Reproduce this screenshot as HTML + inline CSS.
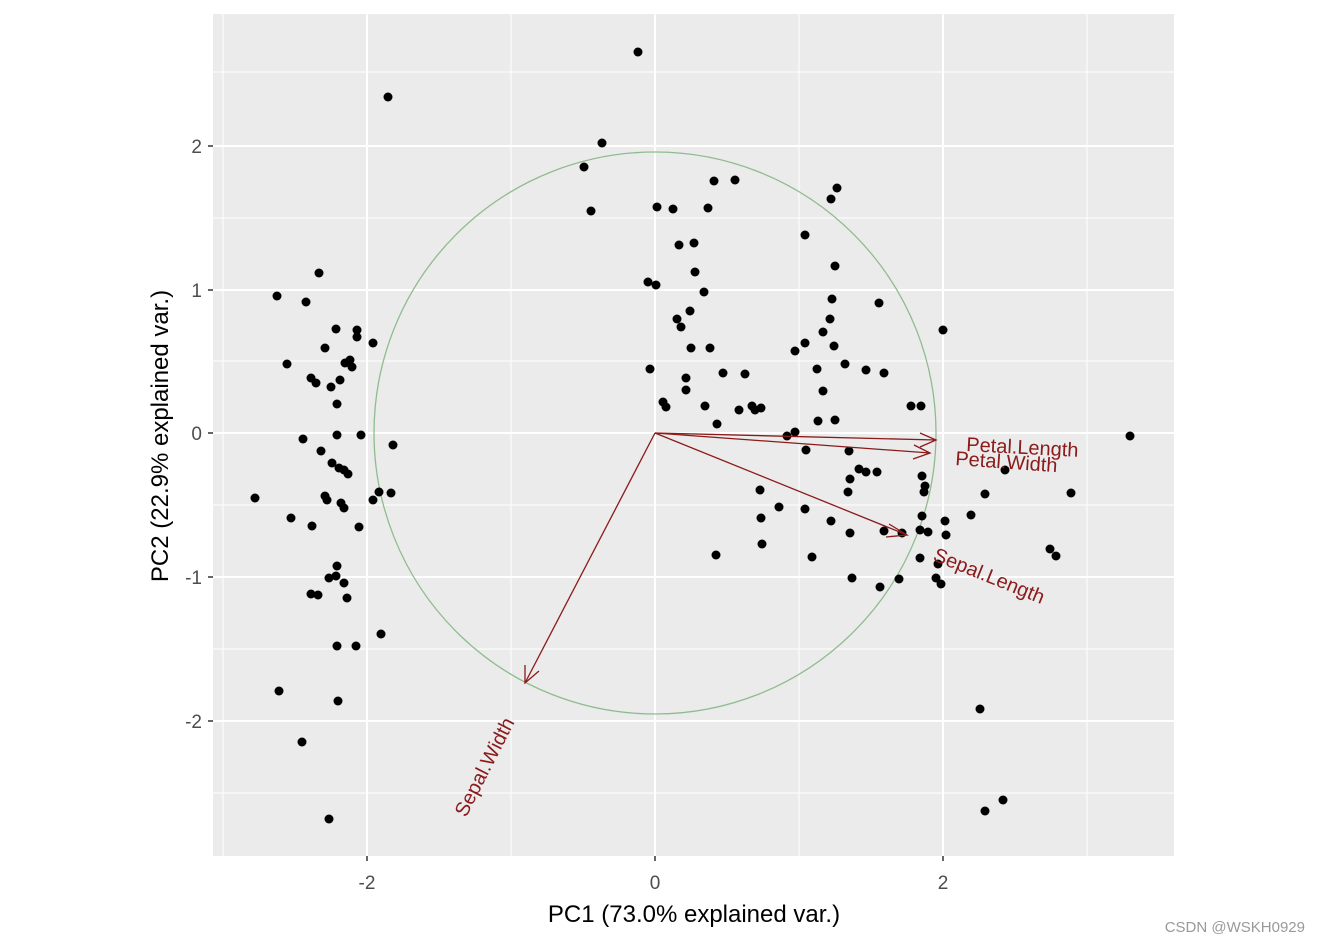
<!DOCTYPE html>
<html><head><meta charset="utf-8"><style>body{margin:0;background:#fff}svg{display:block}</style></head><body>
<svg width="1320" height="943" xmlns="http://www.w3.org/2000/svg" font-family="Liberation Sans, sans-serif">
<rect x="0" y="0" width="1320" height="943" fill="#fff"/>
<rect x="213" y="14" width="961" height="842" fill="#ebebeb"/>
<g stroke="#fff" stroke-width="1">
<line x1="223" y1="14" x2="223" y2="856"/><line x1="511" y1="14" x2="511" y2="856"/><line x1="799" y1="14" x2="799" y2="856"/><line x1="1087" y1="14" x2="1087" y2="856"/>
<line x1="213" y1="72" x2="1174" y2="72"/><line x1="213" y1="218" x2="1174" y2="218"/><line x1="213" y1="361" x2="1174" y2="361"/><line x1="213" y1="505" x2="1174" y2="505"/><line x1="213" y1="649" x2="1174" y2="649"/><line x1="213" y1="793" x2="1174" y2="793"/>
</g>
<g stroke="#fff" stroke-width="2">
<line x1="367" y1="14" x2="367" y2="856"/><line x1="655" y1="14" x2="655" y2="856"/><line x1="943" y1="14" x2="943" y2="856"/>
<line x1="213" y1="146" x2="1174" y2="146"/><line x1="213" y1="290" x2="1174" y2="290"/><line x1="213" y1="433" x2="1174" y2="433"/><line x1="213" y1="577" x2="1174" y2="577"/><line x1="213" y1="721" x2="1174" y2="721"/>
</g>
<g stroke="#333" stroke-width="1.5">
<line x1="367" y1="856" x2="367" y2="861"/><line x1="655" y1="856" x2="655" y2="861"/><line x1="943" y1="856" x2="943" y2="861"/>
<line x1="208" y1="146" x2="213" y2="146"/><line x1="208" y1="290" x2="213" y2="290"/><line x1="208" y1="433" x2="213" y2="433"/><line x1="208" y1="577" x2="213" y2="577"/><line x1="208" y1="721" x2="213" y2="721"/>
</g>
<g fill="#4d4d4d" font-size="19">
<text x="367" y="889" text-anchor="middle">-2</text><text x="655" y="889" text-anchor="middle">0</text><text x="943" y="889" text-anchor="middle">2</text>
<text x="202" y="153" text-anchor="end">2</text><text x="202" y="297" text-anchor="end">1</text><text x="202" y="440" text-anchor="end">0</text><text x="202" y="584" text-anchor="end">-1</text><text x="202" y="728" text-anchor="end">-2</text>
</g>
<text x="694" y="922" text-anchor="middle" font-size="24" fill="#000">PC1 (73.0% explained var.)</text>
<text transform="translate(168,436) rotate(-90)" text-anchor="middle" font-size="24" fill="#000">PC2 (22.9% explained var.)</text>
<ellipse cx="655" cy="433" rx="281" ry="281" fill="none" stroke="#8fbc8f" stroke-width="1.3"/>
<g fill="#000">
<circle cx="388" cy="97" r="4.5"/><circle cx="277" cy="296" r="4.5"/><circle cx="306" cy="302" r="4.5"/><circle cx="319" cy="273" r="4.5"/><circle cx="336" cy="329" r="4.5"/><circle cx="357" cy="330" r="4.5"/><circle cx="357" cy="337" r="4.5"/><circle cx="373" cy="343" r="4.5"/><circle cx="325" cy="348" r="4.5"/><circle cx="287" cy="364" r="4.5"/><circle cx="311" cy="378" r="4.5"/><circle cx="316" cy="383" r="4.5"/><circle cx="340" cy="380" r="4.5"/><circle cx="331" cy="387" r="4.5"/><circle cx="350" cy="360" r="4.5"/><circle cx="345" cy="363" r="4.5"/><circle cx="352" cy="367" r="4.5"/><circle cx="337" cy="404" r="4.5"/><circle cx="337" cy="435" r="4.5"/><circle cx="361" cy="435" r="4.5"/><circle cx="303" cy="439" r="4.5"/><circle cx="321" cy="451" r="4.5"/><circle cx="332" cy="463" r="4.5"/><circle cx="339" cy="468" r="4.5"/><circle cx="344" cy="470" r="4.5"/><circle cx="348" cy="474" r="4.5"/><circle cx="325" cy="496" r="4.5"/><circle cx="327" cy="500" r="4.5"/><circle cx="341" cy="503" r="4.5"/><circle cx="344" cy="508" r="4.5"/><circle cx="255" cy="498" r="4.5"/><circle cx="291" cy="518" r="4.5"/><circle cx="312" cy="526" r="4.5"/><circle cx="359" cy="527" r="4.5"/><circle cx="373" cy="500" r="4.5"/><circle cx="379" cy="492" r="4.5"/><circle cx="391" cy="493" r="4.5"/><circle cx="337" cy="566" r="4.5"/><circle cx="336" cy="576" r="4.5"/><circle cx="329" cy="578" r="4.5"/><circle cx="344" cy="583" r="4.5"/><circle cx="311" cy="594" r="4.5"/><circle cx="318" cy="595" r="4.5"/><circle cx="347" cy="598" r="4.5"/><circle cx="337" cy="646" r="4.5"/><circle cx="356" cy="646" r="4.5"/><circle cx="381" cy="634" r="4.5"/><circle cx="279" cy="691" r="4.5"/><circle cx="338" cy="701" r="4.5"/><circle cx="302" cy="742" r="4.5"/><circle cx="329" cy="819" r="4.5"/><circle cx="393" cy="445" r="4.5"/>
<circle cx="638" cy="52" r="4.5"/><circle cx="602" cy="143" r="4.5"/><circle cx="584" cy="167" r="4.5"/><circle cx="591" cy="211" r="4.5"/><circle cx="657" cy="207" r="4.5"/><circle cx="673" cy="209" r="4.5"/><circle cx="714" cy="181" r="4.5"/><circle cx="708" cy="208" r="4.5"/><circle cx="735" cy="180" r="4.5"/><circle cx="805" cy="235" r="4.5"/><circle cx="831" cy="199" r="4.5"/><circle cx="837" cy="188" r="4.5"/><circle cx="835" cy="266" r="4.5"/><circle cx="832" cy="299" r="4.5"/><circle cx="830" cy="319" r="4.5"/><circle cx="823" cy="332" r="4.5"/><circle cx="834" cy="346" r="4.5"/><circle cx="879" cy="303" r="4.5"/><circle cx="943" cy="330" r="4.5"/><circle cx="679" cy="245" r="4.5"/><circle cx="694" cy="243" r="4.5"/><circle cx="695" cy="272" r="4.5"/><circle cx="648" cy="282" r="4.5"/><circle cx="656" cy="285" r="4.5"/><circle cx="704" cy="292" r="4.5"/><circle cx="690" cy="311" r="4.5"/><circle cx="677" cy="319" r="4.5"/><circle cx="681" cy="327" r="4.5"/><circle cx="691" cy="348" r="4.5"/><circle cx="710" cy="348" r="4.5"/><circle cx="795" cy="351" r="4.5"/><circle cx="805" cy="343" r="4.5"/><circle cx="650" cy="369" r="4.5"/><circle cx="686" cy="378" r="4.5"/><circle cx="686" cy="390" r="4.5"/><circle cx="663" cy="402" r="4.5"/><circle cx="666" cy="407" r="4.5"/><circle cx="705" cy="406" r="4.5"/><circle cx="723" cy="373" r="4.5"/><circle cx="745" cy="374" r="4.5"/><circle cx="739" cy="410" r="4.5"/><circle cx="752" cy="406" r="4.5"/><circle cx="755" cy="410" r="4.5"/><circle cx="761" cy="408" r="4.5"/><circle cx="817" cy="369" r="4.5"/><circle cx="823" cy="391" r="4.5"/><circle cx="845" cy="364" r="4.5"/><circle cx="866" cy="370" r="4.5"/><circle cx="884" cy="373" r="4.5"/><circle cx="911" cy="406" r="4.5"/><circle cx="921" cy="406" r="4.5"/><circle cx="818" cy="421" r="4.5"/><circle cx="835" cy="420" r="4.5"/><circle cx="787" cy="436" r="4.5"/><circle cx="795" cy="432" r="4.5"/><circle cx="806" cy="450" r="4.5"/><circle cx="717" cy="424" r="4.5"/><circle cx="849" cy="451" r="4.5"/><circle cx="859" cy="469" r="4.5"/><circle cx="866" cy="472" r="4.5"/><circle cx="877" cy="472" r="4.5"/><circle cx="850" cy="479" r="4.5"/><circle cx="848" cy="492" r="4.5"/><circle cx="922" cy="476" r="4.5"/><circle cx="924" cy="492" r="4.5"/><circle cx="925" cy="486" r="4.5"/><circle cx="760" cy="490" r="4.5"/><circle cx="779" cy="507" r="4.5"/><circle cx="805" cy="509" r="4.5"/><circle cx="761" cy="518" r="4.5"/><circle cx="716" cy="555" r="4.5"/><circle cx="762" cy="544" r="4.5"/><circle cx="812" cy="557" r="4.5"/><circle cx="831" cy="521" r="4.5"/><circle cx="850" cy="533" r="4.5"/><circle cx="884" cy="531" r="4.5"/><circle cx="902" cy="533" r="4.5"/><circle cx="922" cy="516" r="4.5"/><circle cx="920" cy="530" r="4.5"/><circle cx="928" cy="532" r="4.5"/><circle cx="946" cy="535" r="4.5"/><circle cx="938" cy="564" r="4.5"/><circle cx="920" cy="558" r="4.5"/><circle cx="945" cy="521" r="4.5"/><circle cx="852" cy="578" r="4.5"/><circle cx="880" cy="587" r="4.5"/><circle cx="899" cy="579" r="4.5"/><circle cx="936" cy="578" r="4.5"/><circle cx="941" cy="584" r="4.5"/><circle cx="971" cy="515" r="4.5"/><circle cx="985" cy="494" r="4.5"/><circle cx="1005" cy="470" r="4.5"/><circle cx="1071" cy="493" r="4.5"/><circle cx="1050" cy="549" r="4.5"/><circle cx="1056" cy="556" r="4.5"/><circle cx="1130" cy="436" r="4.5"/><circle cx="980" cy="709" r="4.5"/><circle cx="985" cy="811" r="4.5"/><circle cx="1003" cy="800" r="4.5"/>
</g>
<g stroke="#8b1a1a" stroke-width="1.3" fill="none">
<line x1="655" y1="433" x2="936" y2="440"/><polyline points="920,433 936,440 920,447"/>
<line x1="655" y1="433" x2="930" y2="453"/><polyline points="914,445 930,453 913,459"/>
<line x1="655" y1="433" x2="907" y2="535"/><polyline points="889,524 907,535 886,537"/>
<line x1="655" y1="433" x2="525" y2="683"/><polyline points="525,665 525,683 539,671"/>
</g>
<g fill="#8b1a1a" font-size="20">
<text transform="translate(966,451) rotate(3)">Petal.Length</text>
<text transform="translate(955,465) rotate(4)">Petal.Width</text>
<text transform="translate(932,560) rotate(22)">Sepal.Length</text>
<text transform="translate(466,818) rotate(-63)">Sepal.Width</text>
</g>
<text x="1305" y="932" text-anchor="end" font-size="15" fill="#999">CSDN @WSKH0929</text>
</svg>
</body></html>
